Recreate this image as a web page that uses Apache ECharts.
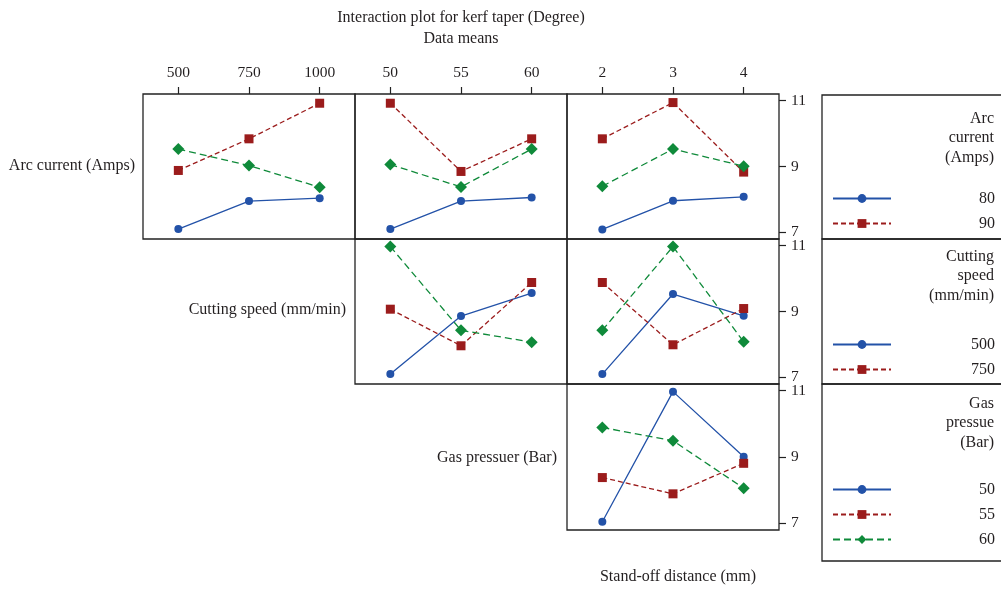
<!DOCTYPE html>
<html><head><meta charset="utf-8">
<script src="https://cdn.jsdelivr.net/npm/echarts@6/dist/echarts.min.js"></script>
<style>html,body{margin:0;padding:0;background:#fff}#c{width:1001px;height:589px}</style>
</head><body><div id="c"></div>
<script>
// ---- data ----
const cuttingSpeedLevels = ['500', '750', '1000'];
const gasPressureLevels = ['50', '55', '60'];
const standoffLevels = ['2', '3', '4'];
const yTickValues = [7, 9, 11];

// Row 1: Arc current (Amps) — series 80, 90, third level
const arcNames = ['80', '90', 'arc-3'];
const arcBySpeed_1 = [7.10, 7.95, 8.04];
const arcBySpeed_2 = [8.88, 9.84, 10.92];
const arcBySpeed_3 = [9.53, 9.03, 8.37];
const arcByGas_1 = [7.10, 7.95, 8.06];
const arcByGas_2 = [10.92, 8.85, 9.84];
const arcByGas_3 = [9.06, 8.38, 9.53];
const arcByStandoff_1 = [7.09, 7.96, 8.08];
const arcByStandoff_2 = [9.84, 10.94, 8.83];
const arcByStandoff_3 = [8.40, 9.53, 9.01];

// Row 2: Cutting speed (mm/min) — series 500, 750, third level
const speedNames = ['500', '750', 'speed-3'];
const speedByGas_1 = [7.10, 8.86, 9.56];
const speedByGas_2 = [9.07, 7.96, 9.88];
const speedByGas_3 = [10.97, 8.43, 8.07];
const speedByStandoff_1 = [7.10, 9.53, 8.87];
const speedByStandoff_2 = [9.88, 7.99, 9.09];
const speedByStandoff_3 = [8.43, 10.97, 8.08];

// Row 3: Gas pressure (Bar) — series 50, 55, 60
const gasNames = ['50', '55', '60'];
const gasByStandoff_1 = [7.05, 10.97, 9.01];
const gasByStandoff_2 = [8.38, 7.89, 8.81];
const gasByStandoff_3 = [9.89, 9.49, 8.06];

// ---- styling / layout ----
const FONT = '"Liberation Serif", "DejaVu Serif", serif';
const TXT = '#231f20';
const BLUE = '#2352a8', RED = '#9b1c1c', GREEN = '#0f8a3a';
const seriesStyles = [
  { symbol: 'circle', symbolSize: 8, color: BLUE, type: 'solid' },
  { symbol: 'rect', symbolSize: 9, color: RED, type: [5, 3] },
  { symbol: 'diamond', symbolSize: 12, color: GREEN, type: [7, 4] }
];
const colLeft = [143, 355, 567], panelW = 212;
const rowTop = [94, 239, 384], panelH = [145, 145, 146];

const panels = [
  { r: 0, c: 0, cats: cuttingSpeedLevels, names: arcNames, data: [arcBySpeed_1, arcBySpeed_2, arcBySpeed_3] },
  { r: 0, c: 1, cats: gasPressureLevels, names: arcNames, data: [arcByGas_1, arcByGas_2, arcByGas_3] },
  { r: 0, c: 2, cats: standoffLevels, names: arcNames, data: [arcByStandoff_1, arcByStandoff_2, arcByStandoff_3] },
  { r: 1, c: 1, cats: gasPressureLevels, names: speedNames, data: [speedByGas_1, speedByGas_2, speedByGas_3] },
  { r: 1, c: 2, cats: standoffLevels, names: speedNames, data: [speedByStandoff_1, speedByStandoff_2, speedByStandoff_3] },
  { r: 2, c: 2, cats: standoffLevels, names: gasNames, data: [gasByStandoff_1, gasByStandoff_2, gasByStandoff_3] }
];

const grid = [], xAxis = [], yAxis = [], series = [];
panels.forEach((p, i) => {
  grid.push({ left: colLeft[p.c], top: rowTop[p.r], width: panelW, height: panelH[p.r],
    show: true, borderColor: '#222', borderWidth: 1.3, backgroundColor: 'transparent' });
  const top = p.r === 0;
  xAxis.push({ type: 'category', gridIndex: i, data: p.cats, position: 'top', boundaryGap: true,
    axisLine: { show: false },
    axisTick: { show: top, alignWithLabel: true, length: 7, lineStyle: { color: '#222', width: 1.2 } },
    axisLabel: { show: top, margin: 13, color: TXT, fontFamily: FONT, fontSize: 15.5 },
    splitLine: { show: false } });
  const right = p.c === 2;
  yAxis.push({ type: 'value', gridIndex: i, min: 6.8, max: 11.2, position: 'right',
    axisLine: { show: false },
    axisTick: { show: right, customValues: yTickValues, length: 7, lineStyle: { color: '#222', width: 1.2 } },
    axisLabel: { show: right, customValues: yTickValues, margin: 12, color: TXT, fontFamily: FONT, fontSize: 15.5 },
    splitLine: { show: false } });
  p.data.forEach((d, k) => {
    const s = seriesStyles[k];
    series.push({ type: 'line', name: p.names[k], xAxisIndex: i, yAxisIndex: i, data: d,
      symbol: s.symbol, symbolSize: s.symbolSize, z: 2 + k,
      itemStyle: { color: s.color },
      lineStyle: { color: s.color, width: 1.3, type: s.type },
      animation: false });
  });
});

function legendAt(top, names) {
  return { top: top, left: 832, orient: 'vertical', padding: 0, itemWidth: 58, itemHeight: 11,
    itemGap: 9, selectedMode: false, data: names,
    formatter: '{v|{name}}',
    textStyle: { color: TXT, fontFamily: FONT, fontSize: 16,
      rich: { v: { width: 99, align: 'right', fontFamily: FONT, fontSize: 16, color: TXT } } } };
}

const txt = (text, x, y, align, extra) => ({ type: 'text', x: x, y: y,
  style: Object.assign({ text: text, align: align, verticalAlign: 'middle', fill: TXT,
    font: '16px ' + FONT }, extra || {}) });
const box = (y, h) => ({ type: 'rect', shape: { x: 822, y: y, width: 200, height: h },
  style: { fill: 'none', stroke: '#222', lineWidth: 1.3 } });

const option = {
  backgroundColor: '#fff',
  animation: false,
  grid, xAxis, yAxis, series,
  legend: [
    legendAt(190.5, ['80', '90']),
    legendAt(336.5, ['500', '750']),
    legendAt(481.5, ['50', '55', '60'])
  ],
  graphic: [
    box(95, 144), box(239, 145), box(384, 177),
    txt('Interaction plot for kerf taper (Degree)', 461, 18, 'center'),
    txt('Data means', 461, 39, 'center'),
    txt('Arc current (Amps)', 135, 166, 'right'),
    txt('Cutting speed (mm/min)', 346, 310, 'right'),
    txt('Gas pressuer (Bar)', 557, 458, 'right'),
    txt('Stand-off distance (mm)', 678, 577, 'center'),
    txt('Arc\ncurrent\n(Amps)', 994, 109, 'right', { verticalAlign: 'top', lineHeight: 19.5 }),
    txt('Cutting\nspeed\n(mm/min)', 994, 247, 'right', { verticalAlign: 'top', lineHeight: 19.5 }),
    txt('Gas\npressue\n(Bar)', 994, 394, 'right', { verticalAlign: 'top', lineHeight: 19.5 })
  ]
};
const chart = echarts.init(document.getElementById('c'), null, { renderer: 'canvas' });
chart.setOption(option);
</script></body></html>
